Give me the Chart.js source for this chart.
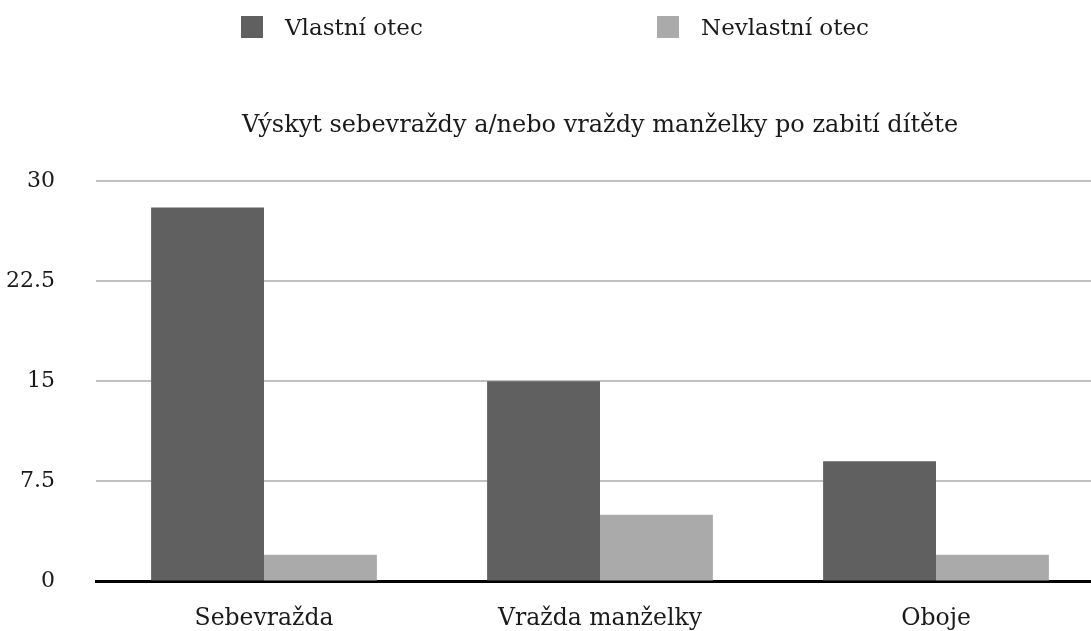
<!DOCTYPE html>
<html>
<head>
<meta charset="utf-8">
<title>Výskyt sebevraždy a/nebo vraždy manželky</title>
<script src="https://cdn.jsdelivr.net/npm/chart.js@4.4.1/dist/chart.umd.min.js"></script>
<style>
    html, body { margin: 0; padding: 0; background: #fff; overflow: hidden; }
    #wrap { position: relative; width: 1104px; height: 631px; }
    #wrap canvas { display: block; }
    #legend { position: absolute; top: 0; left: 0; width: 1091px; height: 60px; }
    #legend .item {
        position: absolute; top: 16px; height: 22px;
        display: flex; align-items: center;
        font: 23px "DejaVu Serif", serif; color: #1a1a1a; white-space: nowrap;
    }
    #legend .box { width: 22px; height: 22px; margin-right: 22px; }
</style>
</head>
<body>
<div id="wrap">
    <div id="legend"></div>
    <canvas id="fatherChart" width="1104" height="631"></canvas>
</div>
<script>
// data
const categories = ['Sebevražda', 'Vražda manželky', 'Oboje'];
const seriesNames = ['Vlastní otec', 'Nevlastní otec'];
const vlastniOtec = [28, 15, 9];
const nevlastniOtec = [2, 5, 2];
const yTicks = [0, 7.5, 15, 22.5, 30];
const chartTitle = 'Výskyt sebevraždy a/nebo vraždy manželky po zabití dítěte';

const textColor = '#1a1a1a';
Chart.defaults.font.family = '"DejaVu Serif", serif';
Chart.defaults.font.size = 22;
Chart.defaults.color = textColor;

// Title centred over the plot area instead of the whole canvas
const titleOverPlot = {
    id: 'titleOverPlot',
    afterLayout(chart) {
        const t = chart.titleBlock;
        if (!t) return;
        t.left = chart.chartArea.left;
        t.right = chart.chartArea.right;
    }
};

// Legend as html, built from the datasets
const htmlLegend = {
    id: 'htmlLegend',
    afterUpdate(chart) {
        const legend = document.getElementById('legend');
        legend.innerHTML = '';
        chart.data.datasets.forEach((ds, i) => {
            const item = document.createElement('div');
            item.className = 'item';
            item.style.left = (241 + i * 416) + 'px';
            const box = document.createElement('span');
            box.className = 'box';
            box.style.background = ds.backgroundColor;
            const label = document.createElement('span');
            label.textContent = ds.label;
            item.appendChild(box);
            item.appendChild(label);
            legend.appendChild(item);
        });
    }
};

const ctx = document.getElementById('fatherChart').getContext('2d');
const fatherChart = new Chart(ctx, {
    type: 'bar',
    data: {
        labels: categories,
        datasets: [
            {
                label: seriesNames[0],
                data: vlastniOtec,
                backgroundColor: '#606060',
                borderWidth: 0,
            },
            {
                label: seriesNames[1],
                data: nevlastniOtec,
                backgroundColor: '#aaaaaa',
                borderWidth: 0,
            },
        ],
    },
    options: {
        responsive: false,
        animation: false,
        layout: { padding: 0 },
        datasets: {
            bar: { categoryPercentage: 0.672, barPercentage: 1.0 },
        },
        plugins: {
            legend: { display: false },
            tooltip: { enabled: false },
            title: {
                display: true,
                text: chartTitle,
                color: textColor,
                font: { size: 24, weight: 'normal' },
                padding: { top: 111, bottom: 41 },
            },
        },
        scales: {
            x: {
                grid: { display: false, drawTicks: false },
                border: { display: true, color: '#000000', width: 3 },
                ticks: { padding: 23, color: textColor, font: { size: 23.5 } },
                afterFit: (scale) => { scale.height = 49.5; },
            },
            y: {
                min: 0,
                max: 30,
                // invisible tick marks keep the labels away from the plot
                grid: { color: '#c0c0c0', lineWidth: 2, drawTicks: true, tickLength: 41, tickColor: 'rgba(0,0,0,0)' },
                border: { display: false },
                ticks: { padding: 0, color: textColor, font: { size: 22 } },
                afterBuildTicks: (scale) => { scale.ticks = yTicks.map(v => ({ value: v })); },
                afterFit: (scale) => { scale.width = 96; },
            },
        },
    },
    plugins: [titleOverPlot, htmlLegend],
});
</script>
</body>
</html>
